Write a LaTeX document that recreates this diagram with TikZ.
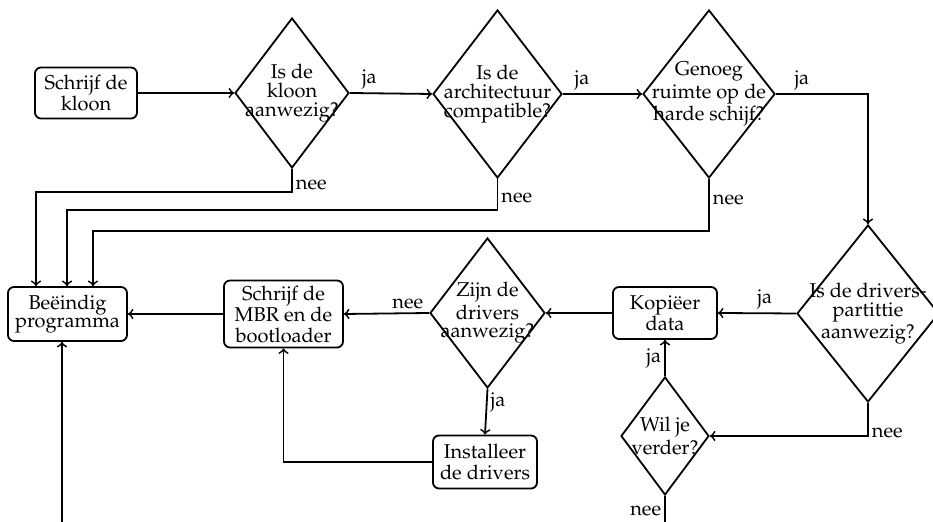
\documentclass[tikz,border=0pt]{standalone}
\usepackage[T1]{fontenc}
\usepackage{mathpazo}
\usetikzlibrary{shapes.geometric}
\begin{document}
\begin{tikzpicture}[x=0.5pt,y=-0.5pt,
  every node/.style={font=\fontsize{10}{10.5}\selectfont},
  box/.style={draw, line width=0.9pt, rounded corners=3pt, align=center, inner sep=0pt},
  dec/.style={draw, diamond, line width=0.9pt, inner sep=0pt},
  dtext/.style={align=center, font=\fontsize{10}{9.4}\selectfont},
  conn/.style={line width=0.9pt, ->},
  lbl/.style={inner sep=1.5pt}]
\useasboundingbox (0,0) rectangle (933,522);
% process boxes
\node[box, minimum width=51pt, minimum height=25.5pt] (s1) at (86,93) {Schrijf de\\kloon};
\node[box, minimum width=59.5pt, minimum height=27pt, font=\fontsize{10}{9.2}\selectfont] (end) at (67.5,314) {Be\"eindig\\programma};
\node[box, minimum width=59.5pt, minimum height=33.5pt] (mbr) at (283.5,314) {Schrijf de\\MBR en de\\bootloader};
\node[box, minimum width=52pt, minimum height=26pt] (kop) at (665,313) {Kopi\"eer\\data};
\node[box, minimum width=52pt, minimum height=26.5pt] (inst) at (485,462) {Installeer\\de drivers};
% decisions
\node[dec, minimum width=57pt, minimum height=75pt,
  label={[dtext]center:Is de\\kloon\\aanwezig?}] (d1) at (292,93) {};
\node[dec, minimum width=64.5pt, minimum height=84pt,
  label={[dtext]center:Is de\\architectuur\\compatible?}] (d2) at (497.5,94) {};
\node[dec, minimum width=66pt, minimum height=84pt,
  label={[dtext]center:Genoeg\\ruimte op de\\harde schijf?}] (d3) at (709,94) {};
\node[dec, minimum width=71pt, minimum height=88.5pt,
  label={[dtext]center:Is de drivers-\\partittie\\aanwezig?}] (d4) at (868,313.5) {};
\node[dec, minimum width=57.5pt, minimum height=75pt,
  label={[dtext]center:Zijn de\\drivers\\aanwezig?}] (zijn) at (487.5,313) {};
\node[dec, minimum width=44pt, minimum height=59pt,
  label={[dtext]center:Wil je\\verder?}] (wil) at (665,436) {};
% helper coordinates
\coordinate (b1) at (36,192);
\coordinate (b2) at (67,210);
\coordinate (b3) at (93,231);
\coordinate (lo) at (62,570);
% connectors
\draw[conn] (s1.east) -- (d1.west);
\draw[conn] (d1.east) -- node[lbl, pos=0.1, above right] {ja} (d2.west);
\draw[conn] (d2.east) -- node[lbl, pos=0.1, above right] {ja} (d3.west);
\draw[conn] (d3.east) -| node[lbl, pos=0.08, above right] {ja} (d4.north);
\draw[conn] (d1.south) |- node[lbl, pos=0.35, right] {nee} (b1) -- (b1 |- end.north);
\draw[conn] (d2.south) |- node[lbl, pos=0.3, right] {nee} (b2) -- (b2 |- end.north);
\draw[conn] (d3.south) |- node[lbl, pos=0.2, right] {nee} (b3) -- (b3 |- end.north);
\draw[conn] (d4.west) -- node[lbl, pos=0.4, above] {ja} (kop.east);
\draw[conn] (d4.south) |- node[lbl, pos=0.45, right] {nee} (wil.east);
\draw[conn] (wil.north) -- node[lbl, midway, left] {ja} (kop.south);
\draw[conn] (kop.west) -- (zijn.east);
\draw[conn] (zijn.west) -- node[lbl, pos=0.25, above] {nee} (mbr.east);
\draw[conn] (zijn.south) -- node[lbl, pos=0.3, right] {ja} (inst.north);
\draw[conn] (inst.west) -| (mbr.south);
\draw[conn] (mbr.west) -- (end.east);
\draw[conn] (wil.south) -- node[lbl, pos=0.2, left] {nee} (wil.south |- lo) -- (lo) -- (lo |- end.south);
\end{tikzpicture}
\end{document}
